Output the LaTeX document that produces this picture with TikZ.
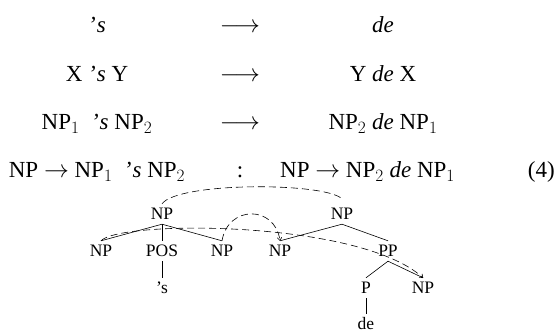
\documentclass[tikz,border=0pt]{standalone}
\usepackage{fontspec}
\setmainfont{Liberation Serif}
\usetikzlibrary{arrows.meta}
\begin{document}
\begin{tikzpicture}[x=1pt,y=-1pt,
  big/.style={font=\fontsize{23}{28}\selectfont, anchor=base, inner sep=0pt},
  lab/.style={font=\fontsize{17.5}{21}\selectfont, anchor=base, inner xsep=0pt, inner ysep=4pt, text height=12pt, text depth=0pt},
  branch/.style={line width=0.6pt},
  dsh/.style={line width=0.6pt, dash pattern=on 7pt off 4pt},
  dsharrow/.style={dsh, -{To[length=3.5pt,width=5pt]}}]
\useasboundingbox (0,0) rectangle (555,334);
% rules
\node[big] (r1l) at (97,33) {\textit{'\kern1pt s}};
\node[big] (r1a) at (240,33) {$\longrightarrow$};
\node[big] (r1r) at (383,33) {\textit{de}};
\node[big] (r2l) at (97,82) {X \textit{'\kern1pt s} Y};
\node[big] (r2a) at (240,82) {$\longrightarrow$};
\node[big] (r2r) at (383,82) {Y \textit{de} X};
\node[big] (r3l) at (97,130) {NP$_1$\ \ \textit{'\kern1pt s} NP$_2$};
\node[big] (r3a) at (240,130) {$\longrightarrow$};
\node[big] (r3r) at (383,130) {NP$_2$ \textit{de} NP$_1$};
\node[big] (r4l) at (97,178) {NP $\rightarrow$ NP$_1$\ \ \textit{'\kern1pt s} NP$_2$};
\node[big] (r4c) at (240,178) {:};
\node[big, anchor=base west] (r4r) at (280,178) {NP $\rightarrow$ NP$_2$ \textit{de} NP$_1$};
\node[big, anchor=base east] (num) at (555,178) {(4)};
% left tree
\node[lab] (rootL) at (162,220) {NP};
\node[lab] (lnp1) at (101,257) {NP};
\node[lab] (lpos) at (162,257) {POS};
\node[lab] (lnp2) at (222,257) {NP};
\node[lab] (lposs) at (162,294) {’s};
% right tree
\node[lab] (rootR) at (342,220) {NP};
\node[lab] (rnp2) at (280,257) {NP};
\node[lab] (rpp) at (388,257) {PP};
\node[lab] (rp) at (366,294) {P};
\node[lab] (rnp1) at (423,294) {NP};
\node[lab] (rde) at (366,330) {de};
% branches
\draw[branch] (rootL.south) -- (lnp1.north);
\draw[branch] (rootL.south) -- (lpos.north);
\draw[branch] (rootL.south) -- (lnp2.north);
\draw[branch] (lpos.south) -- (lposs.north);
\draw[branch] (rootR.south) -- (rnp2.north);
\draw[branch] (rootR.south) -- (rpp.north);
\draw[branch] (rpp.south) -- (rp.north);
\draw[branch] (rpp.south) -- (rnp1.north);
\draw[branch] (rp.south) -- (rde.north);
% alignments
\draw[dsh] (rootL.north) .. controls (178,182) and (324,182) .. ([yshift=5pt]rootR.north);
\draw[dsharrow] (lnp1.north) .. controls (120,220) and (360,220) .. (rnp1.north);
\draw[dsharrow] (lnp2.north) .. controls (228,205) and (275,205) .. (rnp2.north);
\end{tikzpicture}
\end{document}
